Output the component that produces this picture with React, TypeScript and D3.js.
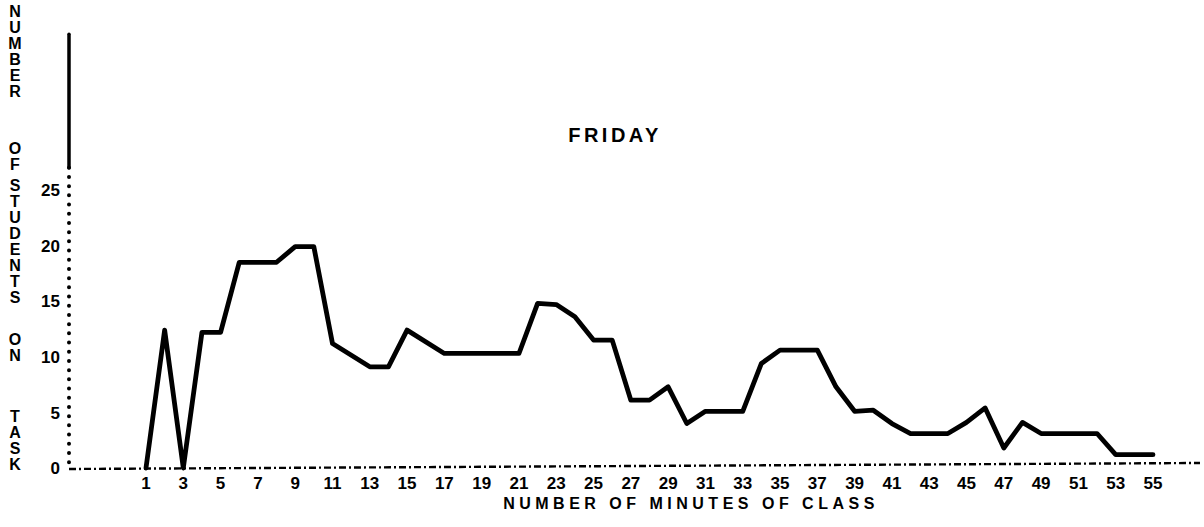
import React from 'react'
import * as d3 from 'd3'

// minute of class -> number of students on task (Friday)
const minutes = [1, 2, 3, 4, 5, 6, 8, 9, 10, 11, 13, 14, 15, 17, 21, 22, 23, 24, 25, 26, 27, 28, 29, 30, 31, 33, 34, 35, 37, 38, 39, 40, 41, 42, 43, 44, 45, 46, 47, 48, 49, 52, 53, 55]
const students = [0, 12.4, 0, 12.2, 12.2, 18.5, 18.5, 19.9, 19.9, 11.2, 9.1, 9.1, 12.4, 10.3, 10.3, 14.8, 14.7, 13.6, 11.5, 11.5, 6.1, 6.1, 7.3, 4.0, 5.1, 5.1, 9.4, 10.6, 10.6, 7.3, 5.1, 5.2, 4.0, 3.1, 3.1, 3.1, 4.1, 5.4, 1.8, 4.1, 3.1, 3.1, 1.2, 1.2]

const xTicks = d3.range(1, 56, 2)
const yTicks = [0, 5, 10, 15, 20, 25]
const yTitleWords = ['NUMBER', 'OF', 'STUDENTS', 'ON', 'TASK']
const wordTops = [3, 140, 177, 331, 408]

const title = 'FRIDAY'
const xTitle = 'NUMBER OF MINUTES OF CLASS'

const layout = { width: 1204, height: 527, axisX: 69, x0: 146, x1: 1153, y0: 468, yTop: 190 }

export default function App() {
  const x = d3.scaleLinear().domain([1, 55]).range([layout.x0, layout.x1])
  const y = d3.scaleLinear().domain([0, 25]).range([layout.y0, layout.yTop])

  const data = minutes.map((m, i) => ({ m, v: students[i] }))
  const line = d3.line<{ m: number; v: number }>()
    .x(d => x(d.m))
    .y(d => y(d.v))

  const font = '"Liberation Sans", Arial, Helvetica, sans-serif'

  return (
    <svg width={layout.width} height={layout.height}
      style={{ position: 'absolute', left: 0, top: 0, background: '#fff' }}
      fontFamily={font} fontWeight="bold">
      {/* y axis: solid top part, dotted lower part */}
      <line x1={layout.axisX} x2={layout.axisX} y1={y(39)} y2={y(27)}
        stroke="#000" strokeWidth={3.5} strokeLinecap="round" />
      <line x1={layout.axisX} x2={layout.axisX} y1={y(27)} y2={y(0)}
        stroke="#000" strokeWidth={4} strokeDasharray="0,9.2" strokeLinecap="round" />

      {/* x axis: dash-dot line */}
      <line x1={layout.axisX} x2={1200} y1={y(0) + 1} y2={y(0) - 5}
        stroke="#000" strokeWidth={2.4} strokeDasharray="7,3,2,3" />

      {/* y tick labels */}
      {yTicks.map(t => (
        <text key={t} x={60} y={y(t)} dy="0.36em" textAnchor="end" fontSize={17}>{t}</text>
      ))}

      {/* x tick labels */}
      {xTicks.map(t => (
        <text key={t} x={x(t)} y={489} textAnchor="middle" fontSize={17}>{t}</text>
      ))}

      {/* stacked y title, one vertical text per word */}
      {yTitleWords.map((w, wi) => (
        <text key={w + wi} x={15} y={wordTops[wi]} fontSize={16} letterSpacing={-1}
          style={{ writingMode: 'vertical-rl', textOrientation: 'upright' }}>{w}</text>
      ))}

      <text x={615} y={135} dy="0.36em" textAnchor="middle" fontSize={20} letterSpacing={3.5}>{title}</text>
      <text x={691} y={509} textAnchor="middle" fontSize={16} letterSpacing={4.5}>{xTitle}</text>

      {/* data line */}
      <path d={line(data) ?? ''} fill="none" stroke="#000" strokeWidth={4.8}
        strokeLinejoin="round" strokeLinecap="round" />
    </svg>
  )
}
